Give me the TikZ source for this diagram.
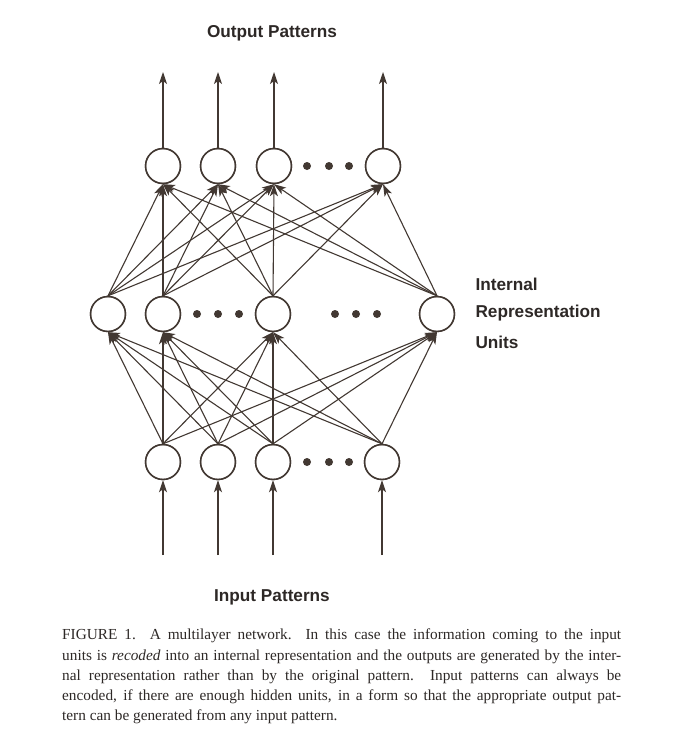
\documentclass[tikz,border=0pt]{standalone}
\usepackage{fontspec}
\setmainfont{Liberation Serif}
\setsansfont{Liberation Sans}
\usetikzlibrary{arrows.meta}
\definecolor{ink}{RGB}{66,56,50}
\definecolor{txt}{RGB}{45,40,38}
\begin{document}
\begin{tikzpicture}[x=1pt,y=-1pt,
  unit/.style={circle,draw=ink,line width=1.4pt,minimum size=35pt,inner sep=0pt,fill=white},
  dotm/.style={circle,fill=ink,minimum size=8pt,inner sep=0pt},
  conn/.style={draw=ink,line width=1.1pt,-{Stealth[length=12pt,width=8pt,inset=3pt]}},
  head/.style={font=\sffamily\bfseries\fontsize{17.2}{20}\selectfont,text=txt},
]
\useasboundingbox (0,0) rectangle (681,731);
% output units
\node[unit] (o1) at (163,166) {};
\node[unit] (o2) at (218,166) {};
\node[unit] (o3) at (274,166) {};
\node[unit] (o4) at (383,166) {};
% hidden units
\node[unit] (h1) at (108,314) {};
\node[unit] (h2) at (163,314) {};
\node[unit] (h3) at (273,314) {};
\node[unit] (h4) at (437,314) {};
% input units
\node[unit] (i1) at (163,462) {};
\node[unit] (i2) at (218,462) {};
\node[unit] (i3) at (273,462) {};
\node[unit] (i4) at (382,462) {};
% dots
\foreach \x/\n in {307/a,329/b,349/c}{\node[dotm] (od\n) at (\x,166) {};}
\foreach \x/\n in {197/a,218/b,239/c}{\node[dotm] (hda\n) at (\x,314) {};}
\foreach \x/\n in {335/a,356/b,377/c}{\node[dotm] (hdb\n) at (\x,314) {};}
\foreach \x/\n in {307/a,329/b,349/c}{\node[dotm] (id\n) at (\x,462) {};}
% connections
\foreach \s in {h1,h2,h3,h4}{
  \foreach \t in {o1,o2,o3,o4}{
    \draw[conn] (\s.north) -- (\t.south);
  }
}
\foreach \s in {i1,i2,i3,i4}{
  \foreach \t in {h1,h2,h3,h4}{
    \draw[conn] (\s.north) -- (\t.south);
  }
}
% output arrows
\foreach \n/\x in {1/163,2/218,3/274,4/383}{
  \coordinate (ot\n) at (\x,72);
  \draw[conn] (o\n.north) -- (ot\n);
}
% input arrows
\foreach \n/\x in {1/163,2/218,3/273,4/382}{
  \coordinate (ib\n) at (\x,555);
  \draw[conn] (ib\n) -- (i\n.south);
}
% redraw units on top
\foreach \n in {o1,o2,o3,o4,h1,h2,h3,h4,i1,i2,i3,i4}{
  \draw[ink,line width=1.4pt] (\n.center) circle (17.5pt);
}
% labels
\node[head] (outlbl) at (272,33) {Output Patterns};
\node[head] (inlbl) at (272,597) {Input Patterns};
\node[head,anchor=west] (l1) at (472,284) {Internal};
\node[head,anchor=west] (l2) at (472,313) {Representation};
\node[head,anchor=west] (l3) at (472,342) {Units};
% caption
\node[anchor=north west,inner sep=0pt,text=txt] (cap) at (62,629) {\parbox{559pt}{\fontsize{15.3}{20.2}\selectfont\setlength{\parindent}{0pt}%
FIGURE 1.\ \ A multilayer network.\ \ In this case the information coming to the input\linebreak
units is \textit{recoded} into an internal representation and the outputs are generated by the inter-\linebreak
nal representation rather than by the original pattern.\ \ Input patterns can always be\linebreak
encoded, if there are enough hidden units, in a form so that the appropriate output pat-\linebreak
tern can be generated from any input pattern.}};
\end{tikzpicture}
\end{document}
